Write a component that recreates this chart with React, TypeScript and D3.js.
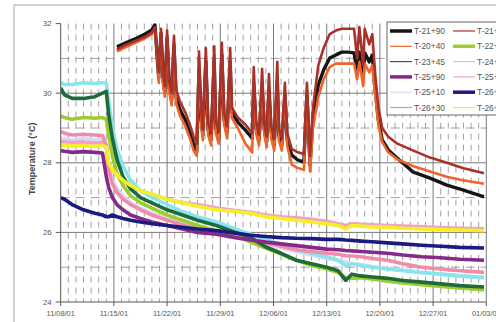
import React from 'react';
import * as d3 from 'd3';

const W = 496;
const H = 322;

// x axis: days since 11/08/01, one label per week
const xTickLabels = ['11/08/01', '11/15/01', '11/22/01', '11/29/01', '12/06/01', '12/13/01', '12/20/01', '12/27/01', '01/03/02'];
const yTicks = [24, 26, 28, 30, 32];

// upper group
const upperDays = [7.4, 8.5, 9.8, 11.1, 12.0, 12.4, 12.7, 12.9, 13.2, 13.5,
  13.7, 14.0, 14.3, 14.6, 14.9, 15.2, 15.7, 16.4, 17.0, 17.5,
  17.9, 18.2, 18.5, 18.7, 19.1, 19.4, 19.8, 20.2, 20.4, 20.8,
  21.2, 21.5, 21.9, 22.3, 22.5, 23.3, 24.3, 25.2, 25.4, 25.7,
  26.1, 26.5, 26.8, 27.1, 27.4, 27.7, 28.1, 28.5, 28.7, 29.1,
  29.5, 29.8, 30.4, 31.2, 32.0, 32.4, 32.8, 33.2, 33.9, 34.6,
  35.4, 36.2, 37.0, 37.8, 38.6, 39.0, 39.3, 39.8, 40.0, 40.6,
  41.0, 41.4, 41.8, 42.3, 43.1, 44.3, 46.4, 48.6, 50.8, 52.9,
  55.7];
const t2190 = [31.33, 31.44, 31.56, 31.70, 31.82, 31.96, 31.01, 30.44, 31.73, 30.32,
  30.03, 31.59, 30.15, 29.80, 31.39, 29.86, 29.52, 29.23, 28.86, 28.51,
  28.31, 30.67, 29.23, 28.80, 30.90, 28.94, 28.66, 30.95, 29.00, 28.71,
  31.10, 29.23, 28.88, 30.90, 29.46, 29.17, 28.94, 28.71, 30.24, 29.00,
  28.66, 30.15, 28.94, 28.60, 30.03, 28.88, 28.51, 30.32, 28.80, 28.51,
  29.95, 28.66, 28.22, 28.08, 28.02, 29.95, 27.94, 29.29, 30.24, 30.67,
  31.01, 31.10, 31.18, 31.18, 31.16, 30.61, 31.18, 30.44, 31.16, 30.90,
  31.10, 30.09, 29.23, 28.66, 28.37, 28.13, 27.73, 27.56, 27.36, 27.22,
  27.02];
const t2130 = [31.25, 31.38, 31.50, 31.62, 31.75, 31.90, 31.2, 30.6, 31.85, 30.5,
  30.2, 31.8, 30.3, 30.0, 31.65, 30.1, 29.75, 29.45, 29.1, 28.75,
  28.55, 31.2, 29.45, 28.95, 31.3, 29.15, 28.85, 31.35, 29.2, 28.9,
  31.45, 29.45, 29.05, 31.3, 29.6, 29.3, 29.1, 28.85, 30.75, 29.2,
  28.8, 30.7, 29.1, 28.75, 30.55, 29.05, 28.7, 30.9, 29.0, 28.7,
  30.3, 28.85, 28.4, 28.3, 28.25, 30.3, 28.2, 29.6, 30.8, 31.3,
  31.7, 31.8, 31.85, 31.85, 31.85, 31.0, 31.9, 30.8, 31.85, 31.4,
  31.7, 30.5, 29.6, 29.0, 28.75, 28.55, 28.35, 28.15, 28.0, 27.85,
  27.7];
const t2040 = [31.2, 31.32, 31.45, 31.58, 31.7, 31.85, 31.1, 30.3, 31.75, 30.2,
  29.9, 31.65, 30.0, 29.65, 31.45, 29.7, 29.35, 29.05, 28.7, 28.35,
  28.2, 30.9, 29.1, 28.65, 31.05, 28.8, 28.5, 31.1, 28.85, 28.55,
  31.25, 29.1, 28.7, 31.0, 29.3, 29.0, 28.55, 28.3, 30.4, 28.85,
  28.5, 30.35, 28.8, 28.45, 30.2, 28.7, 28.35, 30.5, 28.65, 28.35,
  30.05, 28.5, 27.95, 27.85, 27.8, 30.1, 27.75, 29.0, 29.9, 30.4,
  30.75, 30.85, 30.85, 30.85, 30.85, 30.4, 30.9, 30.2, 30.85, 30.6,
  30.8, 29.9, 29.1, 28.6, 28.3, 28.1, 27.9, 27.75, 27.6, 27.5,
  27.4];

// lower group
const lowerDays = [0, 0.5, 1.5, 3, 4.5, 5.5, 6.0, 6.3, 6.8, 7.4,
  8.2, 9.2, 10.5, 12, 14, 16, 18, 20.5, 23, 25,
  27, 29, 31, 33, 35, 36.5, 37.5, 38.3, 39.5, 41,
  43, 45, 47.5, 50, 52.5, 55.7];
const t2290 = [29.35, 29.3, 29.25, 29.3, 29.28, 29.3, 29.25, 28.8, 28.2, 27.7,
  27.35, 27.05, 26.85, 26.7, 26.5, 26.35, 26.2, 26.05, 25.9, 25.72,
  25.55, 25.38, 25.2, 25.05, 24.95, 24.85, 24.7, 24.68, 24.7, 24.66,
  24.6, 24.55, 24.5, 24.45, 24.4, 24.35];
const t2345 = [30.15, 29.95, 29.85, 29.85, 29.9, 30.0, 30.05, 29.4, 28.7, 28.1,
  27.6, 27.25, 27.0, 26.85, 26.65, 26.5, 26.35, 26.2, 26.0, 25.85,
  25.58, 25.4, 25.2, 25.1, 25.0, 24.9, 24.62, 24.8, 24.75, 24.72,
  24.68, 24.62, 24.57, 24.52, 24.47, 24.43];
const t2490 = [30.3, 30.25, 30.25, 30.3, 30.28, 30.3, 30.3, 29.8, 29.0, 28.4,
  27.9, 27.5, 27.2, 27.0, 26.8, 26.6, 26.45, 26.3, 26.1, 25.95,
  25.8, 25.65, 25.5, 25.4, 25.3, 25.2, 25.05, 25.1, 25.05, 25.0,
  24.95, 24.9, 24.85, 24.8, 24.75, 24.7];
const t2590 = [28.35, 28.33, 28.3, 28.32, 28.3, 28.28, 27.6, 27.3, 27.0, 26.8,
  26.65, 26.5, 26.4, 26.3, 26.2, 26.1, 26.0, 25.95, 25.85, 25.78,
  25.72, 25.67, 25.62, 25.57, 25.52, 25.5, 25.48, 25.47, 25.45, 25.43,
  25.4, 25.35, 25.3, 25.27, 25.23, 25.2];
const t2545 = [28.6, 28.6, 28.58, 28.6, 28.57, 28.58, 28.5, 28.0, 27.8, 27.65,
  27.5, 27.35, 27.2, 27.1, 26.95, 26.85, 26.8, 26.7, 26.63, 26.58,
  26.5, 26.45, 26.42, 26.38, 26.32, 26.25, 26.2, 26.25, 26.23, 26.22,
  26.2, 26.18, 26.16, 26.14, 26.12, 26.1];
const t2510 = [28.7, 28.68, 28.65, 28.7, 28.66, 28.65, 28.4, 27.9, 27.5, 27.25,
  27.05, 26.85, 26.7, 26.55, 26.4, 26.27, 26.15, 26.03, 25.9, 25.78,
  25.65, 25.55, 25.45, 25.35, 25.25, 25.2, 25.15, 25.1, 25.08, 25.02,
  24.97, 24.92, 24.85, 24.8, 24.75, 24.7];
const t2690 = [27.0, 26.95, 26.8, 26.65, 26.55, 26.5, 26.45, 26.45, 26.5, 26.45,
  26.4, 26.35, 26.3, 26.25, 26.2, 26.15, 26.1, 26.05, 25.98, 25.92,
  25.88, 25.85, 25.83, 25.82, 25.8, 25.8, 25.78, 25.77, 25.75, 25.73,
  25.7, 25.67, 25.63, 25.6, 25.57, 25.55];
const t2630 = [28.9, 28.85, 28.8, 28.82, 28.8, 28.78, 28.5, 27.8, 27.4, 27.15,
  26.95, 26.8, 26.65, 26.5, 26.35, 26.22, 26.1, 26.0, 25.9, 25.8,
  25.7, 25.6, 25.5, 25.45, 25.4, 25.37, 25.33, 25.32, 25.3, 25.25,
  25.2, 25.1, 25.0, 24.95, 24.9, 24.85];
const t2610 = [28.5, 28.52, 28.48, 28.5, 28.47, 28.5, 28.45, 28.0, 27.8, 27.65,
  27.5, 27.35, 27.2, 27.1, 26.95, 26.85, 26.75, 26.65, 26.6, 26.55,
  26.45, 26.4, 26.35, 26.3, 26.25, 26.2, 26.1, 26.2, 26.18, 26.16,
  26.15, 26.12, 26.1, 26.08, 26.07, 26.05];

type Series = { name: string; color: string; days: number[]; values: number[]; thick: boolean };

// legend order (two columns, row by row)
const legendSeries: Series[] = [
  { name: 'T-21+90', color: '#151515', days: upperDays, values: t2190, thick: true },
  { name: 'T-21+30', color: '#a8322a', days: upperDays, values: t2130, thick: false },
  { name: 'T-20+40', color: '#f0642a', days: upperDays, values: t2040, thick: false },
  { name: 'T-22+90', color: '#9ccc2e', days: lowerDays, values: t2290, thick: true },
  { name: 'T-23+45', color: '#1f6a3a', days: lowerDays, values: t2345, thick: false },
  { name: 'T-24+90', color: '#86e6ee', days: lowerDays, values: t2490, thick: false },
  { name: 'T-25+90', color: '#852a88', days: lowerDays, values: t2590, thick: true },
  { name: 'T-25+45', color: '#f2a0c8', days: lowerDays, values: t2545, thick: false },
  { name: 'T-25+10', color: '#d6d8f4', days: lowerDays, values: t2510, thick: false },
  { name: 'T-26+90', color: '#1b1a80', days: lowerDays, values: t2690, thick: true },
  { name: 'T-26+30', color: '#f08caa', days: lowerDays, values: t2630, thick: false },
  { name: 'T-26+10', color: '#f4f028', days: lowerDays, values: t2610, thick: false },
];

// drawing order in the plot (last on top)
const drawOrder = ['T-25+10', 'T-25+45', 'T-24+90', 'T-26+30', 'T-22+90', 'T-23+45', 'T-25+90', 'T-26+90', 'T-26+10', 'T-21+90', 'T-20+40', 'T-21+30'];

const App = () => {
  const left = 60.7;
  const right = 486.3;
  const top = 23.6;
  const bottom = 302;

  const x = d3.scaleLinear().domain([0, 56]).range([left, right]);
  const y = d3.scaleLinear().domain([24, 32]).range([bottom, top]);

  const line = d3.line<[number, number]>().x(d => x(d[0])).y(d => y(d[1]));

  const weekDays = d3.range(0, 57, 7);
  const minorDays = d3.range(1, 56).filter(d => d % 7 !== 0);
  const oddTemps = [25, 27, 29, 31];
  const evenTemps = [26, 28, 30];

  const byName = new Map(legendSeries.map(s => [s.name, s]));
  const font = 'Liberation Sans, Arial, sans-serif';

  const legX = 387;
  const legY = 22;
  const rowH = 15.3;

  return (
    <svg width={W} height={H} style={{ position: 'fixed', left: 0, top: 0, background: '#fff' }}>
      <defs>
        <clipPath id="plot">
          <rect x={left} y={top - 2} width={right - left + 1} height={bottom - top + 2} />
        </clipPath>
      </defs>
      <rect x={14} y={5} width={520} height={340} fill="#fff" stroke="#b5b5b5" strokeWidth={1.2} />

      {/* grid */}
      {minorDays.map(d => (
        <line key={'mv' + d} x1={x(d)} x2={x(d)} y1={top} y2={bottom} stroke="#8a8a8a" strokeWidth={0.8} strokeDasharray="6,5" />
      ))}
      {oddTemps.map(t => (
        <line key={'ho' + t} x1={left} x2={right} y1={y(t)} y2={y(t)} stroke="#8a8a8a" strokeWidth={0.8} strokeDasharray="9,6" />
      ))}
      {evenTemps.map(t => (
        <line key={'he' + t} x1={left} x2={right} y1={y(t)} y2={y(t)} stroke="#7a7a7a" strokeWidth={1} />
      ))}
      {weekDays.slice(1).map(d => (
        <line key={'wv' + d} x1={x(d)} x2={x(d)} y1={top} y2={bottom} stroke="#7a7a7a" strokeWidth={1} />
      ))}

      {/* series */}
      <g clipPath="url(#plot)">
        {drawOrder.map(n => {
          const s = byName.get(n)!;
          const pts = s.days.map((d, i) => [d, s.values[i]] as [number, number]);
          const w = s.days === upperDays ? (s.thick ? 3.4 : 2.6) : 3.6;
          return (
            <path key={n} d={line(pts) || ''} fill="none" stroke={s.color}
              strokeWidth={w} strokeLinejoin="round" />
          );
        })}
      </g>

      {/* axes */}
      <line x1={left} x2={left} y1={top} y2={bottom} stroke="#555" strokeWidth={1} />
      <line x1={left} x2={right} y1={bottom} y2={bottom} stroke="#555" strokeWidth={1} />
      {yTicks.map(t => (
        <g key={'yt' + t}>
          <line x1={left - 5} x2={left} y1={y(t)} y2={y(t)} stroke="#555" />
          <text x={left - 9} y={y(t) + 2.6} textAnchor="end" fontFamily={font} fontSize={7.8} fill="#555">{t}</text>
        </g>
      ))}
      {xTickLabels.map((lab, i) => (
        <g key={'xt' + i}>
          <line x1={x(i * 7)} x2={x(i * 7)} y1={bottom} y2={bottom + 4} stroke="#555" />
          <text x={x(i * 7)} y={bottom + 14} textAnchor="middle" fontFamily={font} fontSize={7.4} fill="#555">{lab}</text>
        </g>
      ))}
      <text transform={`translate(35,${(top + bottom) / 2 - 4}) rotate(-90)`} textAnchor="middle" fontFamily={font}
        fontSize={9} fontWeight="bold" fill="#444">Temperature (°C)</text>

      {/* legend */}
      <rect x={legX} y={legY} width={140} height={93} fill="#fff" stroke="#666" strokeWidth={1} />
      {legendSeries.map((s, i) => {
        const col = i % 2;
        const row = Math.floor(i / 2);
        const lx = legX + 3 + col * 63;
        const ly = legY + 9 + row * rowH;
        return (
          <g key={'lg' + s.name}>
            <line x1={lx} x2={lx + 22} y1={ly} y2={ly} stroke={s.color} strokeWidth={s.thick ? 3.5 : 1.2} />
            <text x={lx + 24} y={ly + 3} fontFamily={font} fontSize={8.4} fill="#555">{s.name}</text>
          </g>
        );
      })}
    </svg>
  );
};

export default App;
